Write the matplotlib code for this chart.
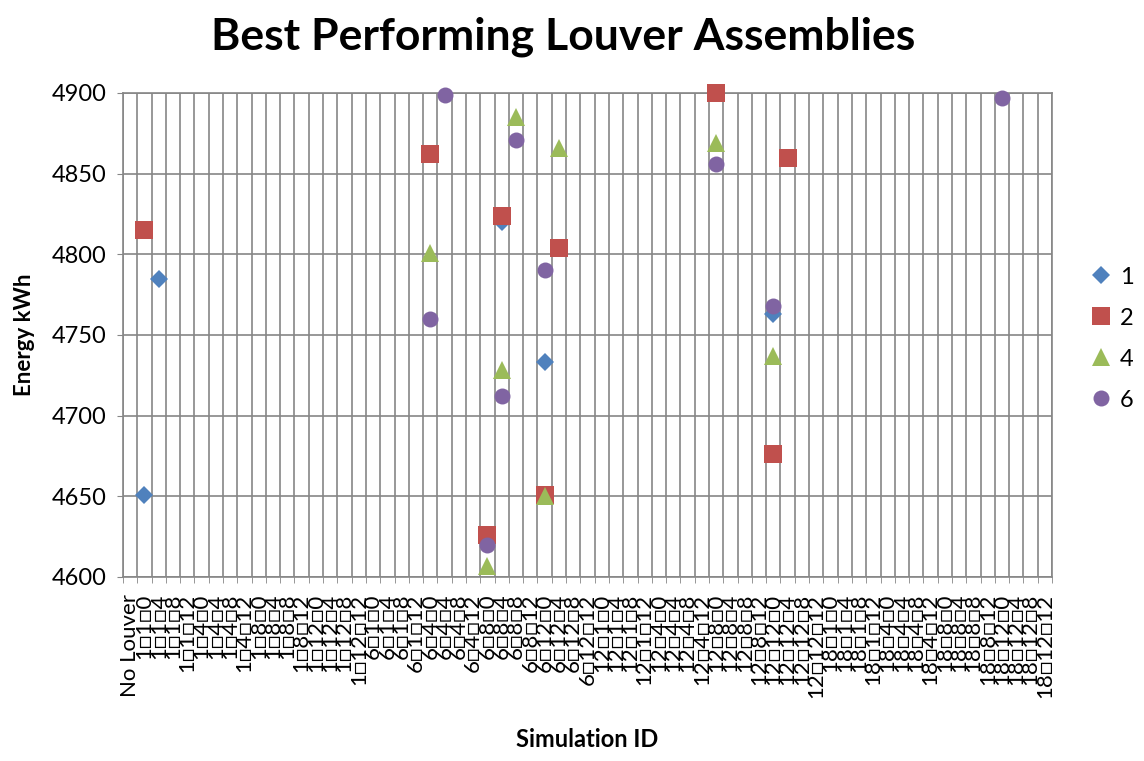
import matplotlib
matplotlib.use("Agg")
import matplotlib.pyplot as plt
import numpy as np

plt.rcParams["font.family"] = ["Lato", "DejaVu Sans"]

# separator glyph shown as a box in the source labels
SEP = "\u25a1"

# category labels: No Louver + every combination A?B?C
louver_a = ["1", "6", "12", "18"]
louver_b = ["1", "4", "8", "12"]
louver_c = ["0", "4", "8", "12"]
categories = ["No Louver"] + [a + SEP + b + SEP + c
                              for a in louver_a for b in louver_b for c in louver_c]

# series values (category label -> energy kWh)
s1_cats = ["1?1?0", "1?1?4", "6?8?4", "6?12?0", "12?12?0"]
s1_vals = [4651, 4785, 4820, 4733, 4763]

s2_cats = ["1?1?0", "6?4?0", "6?8?0", "6?8?4", "6?12?0", "6?12?4", "12?8?0", "12?12?0", "12?12?4"]
s2_vals = [4815, 4862, 4626, 4824, 4651, 4804, 4900, 4676, 4860]

s4_cats = ["6?4?0", "6?8?0", "6?8?4", "6?8?8", "6?12?0", "6?12?4", "12?8?0", "12?12?0"]
s4_vals = [4801, 4607, 4728, 4885, 4650, 4866, 4869, 4737]

s6_cats = ["6?4?0", "6?4?4", "6?8?0", "6?8?4", "6?8?8", "6?12?0", "12?8?0", "12?12?0", "18?12?0"]
s6_vals = [4760, 4899, 4620, 4712, 4871, 4790, 4856, 4768, 4897]

series = [
    ("1", s1_cats, s1_vals, "D", "#4F81BD", 9.6),
    ("2", s2_cats, s2_vals, "s", "#C0504D", 13.5),
    ("4", s4_cats, s4_vals, "^", "#9BBB59", 13.0),
    ("6", s6_cats, s6_vals, "o", "#8064A2", 11.5),
]

fig = plt.figure(figsize=(11.44, 7.61), dpi=100)
ax = fig.add_axes([0.1075, 0.2418, 0.8121, 0.636])

for name, cats, vals, marker, color, ms in series:
    xs = [categories.index(c.replace("?", SEP)) for c in cats]
    ax.plot(xs, vals, linestyle="none", marker=marker, color=color,
            markersize=ms, markeredgewidth=0, label=name, clip_on=False, zorder=3)

ax.set_xlim(-0.5, len(categories) - 0.5)
ax.set_ylim(4600, 4900)
ax.set_yticks(np.arange(4600, 4901, 50))

ax.set_xticks(np.arange(len(categories)))
ax.set_xticklabels(categories, rotation=90, fontsize=16, va="top", ha="center")
ax.set_xticks(np.arange(len(categories) + 1) - 0.5, minor=True)
ax.tick_params(axis="x", which="major", length=0, pad=12)
ax.tick_params(axis="x", which="minor", length=4, color="#868686")
ax.tick_params(axis="y", length=4, color="#868686", labelsize=17, pad=8)

ax.grid(True, which="minor", axis="x", color="#868686", linewidth=1.2)
ax.grid(True, which="major", axis="y", color="#868686", linewidth=1.2)
for sp in ax.spines.values():
    sp.set_color("#868686")
    sp.set_linewidth(1.2)
ax.set_axisbelow(True)

fig.suptitle("Best Performing Louver Assemblies", x=0.492, y=0.978,
             fontsize=32, fontweight="bold")
ax.set_ylabel("Energy kWh", fontsize=16, fontweight="bold", labelpad=12)
fig.text(0.513, 0.018, "Simulation ID", ha="center", fontsize=17, fontweight="bold")

fig.legend(loc="center left", bbox_to_anchor=(0.942, 0.555), frameon=False,
           fontsize=17, handletextpad=0.3, labelspacing=0.85, handlelength=1.0,
           borderpad=0)

fig.savefig("out.png", dpi=100)
